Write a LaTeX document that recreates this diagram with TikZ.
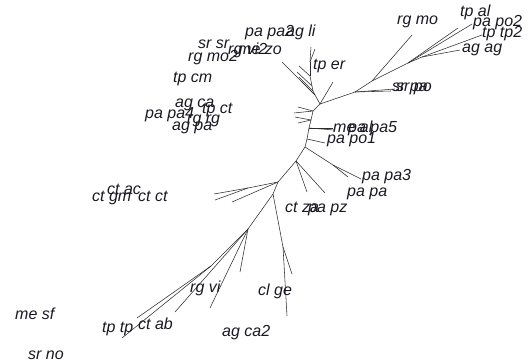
\documentclass[tikz,border=0pt]{standalone}
\usepackage{fontspec}
\setmainfont{Liberation Sans}
\usetikzlibrary{positioning}
\definecolor{branchc}{RGB}{45,45,45}
\definecolor{tipc}{RGB}{25,25,35}

\begin{document}
\begin{tikzpicture}[x=1pt, y=-1pt,
  edge/.style={draw=branchc, line width=0.55pt},
  lbl/.style={anchor=base west, inner sep=0pt, text=tipc, font=\fontsize{16}{16}\selectfont\itshape},
]
\useasboundingbox (0,0) rectangle (532,362);

% ---- backbone ----
\coordinate (b1) at (320,104);
\coordinate (c1) at (313,111);
\coordinate (b2) at (311,120);
\coordinate (b3) at (309,128);
\coordinate (b4) at (307,139);
\coordinate (b5) at (305,147);
\coordinate (b6) at (296,161);
\coordinate (b7) at (278,182);
\coordinate (b8) at (273,194);
\coordinate (b9) at (248,229);
\coordinate (b10) at (211,266);

% ---- right clade ----
\coordinate (r1) at (355,92);
\coordinate (r2) at (372,81);
\coordinate (r3) at (408,63);
\coordinate (r4) at (422,57);
\coordinate (tr1) at (395,89);
\coordinate (tr2) at (391,91);
\coordinate (tr3) at (412,35);
\coordinate (tr4) at (458,28);
\coordinate (tr5) at (472,24);
\coordinate (tr6) at (482,35);
\coordinate (tr7) at (460,50);
\coordinate (tup) at (333,82);

% ---- top clade ----
\coordinate (u1) at (315,95);
\coordinate (u0) at (313,91);
\coordinate (u2) at (312,86);
\coordinate (u3) at (310,76);
\coordinate (u4) at (310,62);
\coordinate (tu1) at (282,62);
\coordinate (tu2) at (297,72);
\coordinate (tu3) at (299,77);
\coordinate (tu4) at (301,81);
\coordinate (tu5) at (299,66);
\coordinate (tu6) at (311,47);
\coordinate (tu7) at (315,49);

% ---- middle tips ----
\coordinate (tm1) at (298,107);
\coordinate (tm2) at (294,113);
\coordinate (tm3) at (295,117);
\coordinate (tm4) at (298,123);
\coordinate (tm5) at (334,130);
\coordinate (tm6) at (333,128);
\coordinate (tm7) at (325,143);
\coordinate (p1) at (333,165);
\coordinate (tm8) at (361,179);
\coordinate (tm9) at (348,177);
\coordinate (tm10) at (307,192);
\coordinate (tm11) at (325,193);

% ---- lower clades ----
\coordinate (k1) at (248,188);
\coordinate (tk1) at (214,194);
\coordinate (tk2) at (215,200);
\coordinate (tk3) at (232,202);
\coordinate (g1) at (283,247);
\coordinate (tg1) at (292,274);
\coordinate (tg2) at (287,316);
\coordinate (tl1) at (240,272);
\coordinate (tl2) at (210,308);
\coordinate (tl3) at (175,312);
\coordinate (tl4) at (137,318);
\coordinate (tl5) at (122,338);

% ---- branches ----
\foreach \a/\b in {b1/c1, c1/b2, b2/b3, b3/b4, b4/b5, b5/b6, b6/b7, b7/b8, b8/b9, b9/b10,
  b1/r1, r1/tr1, r1/tr2, r1/r2, r2/tr3, r2/r3, r3/tr4, r3/tr5, r3/r4, r4/tr6, r4/tr7, b1/tup,
  b1/u1, u1/u0, u0/u2, u2/u3, u3/u4, u1/tu1, u2/tu2, u0/tu3, u1/tu4, u3/tu5, u4/tu6, u4/tu7,
  c1/tm1, c1/tm2, b2/tm3, b2/tm4, b3/tm5, b3/tm6, b4/tm7, b5/p1, p1/tm8, p1/tm9, b6/tm10, b6/tm11,
  b7/k1, k1/tk1, k1/tk2, b7/tk3, b8/g1, g1/tg1, g1/tg2,
  b9/tl1, b9/tl2, b9/tl3, b10/tl4, b10/tl5}
  \draw[edge] (\a) -- (\b);

% ---- tip labels ----
\node[lbl] (papa2) at (245,36) {pa pa2};
\node[lbl] (agli) at (286,36) {ag li};
\node[lbl] (srsr) at (198,48) {sr sr};
\node[lbl] (rgvi2) at (228,54) {rg vi2};
\node[lbl] (mezo) at (238,54) {me zo};
\node[lbl] (rgmo2) at (188,61) {rg mo2};
\node[lbl] (tper) at (313,69) {tp er};
\node[lbl] (tpcm) at (173,82) {tp cm};
\node[lbl] (agca) at (175,107) {ag ca};
\node[lbl] (tpct) at (202,113) {tp ct};
\node[lbl] (papa4) at (145,118) {pa pa4};
\node[lbl] (rgrg) at (187,123) {rg rg};
\node[lbl] (agpa) at (172,130) {ag pa};
\node[lbl] (ctgm) at (92,201) {ct gm};
\node[lbl] (ctac) at (107,194) {ct ac};
\node[lbl] (ctct) at (138,201) {ct ct};
\node[lbl] (ctza) at (285,212) {ct za};
\node[lbl] (papz) at (308,212) {pa pz};
\node[lbl] (meal) at (333,132) {me al};
\node[lbl] (papa5) at (348,132) {pa pa5};
\node[lbl] (papo1) at (327,143) {pa po1};
\node[lbl] (papa3) at (362,180) {pa pa3};
\node[lbl] (papa) at (347,196) {pa pa};
\node[lbl] (rgmo) at (397,24) {rg mo};
\node[lbl] (tpal) at (460,16) {tp al};
\node[lbl] (papo2) at (473,26) {pa po2};
\node[lbl] (tptp2) at (482,37) {tp tp2};
\node[lbl] (agag) at (462,52) {ag ag};
\node[lbl] (srpa) at (392,91) {sr pa};
\node[lbl] (srpo) at (396,91) {sr po};
\node[lbl] (mesf) at (15,319) {me sf};
\node[lbl] (srno) at (28,359) {sr no};
\node[lbl] (tptp) at (102,332) {tp tp};
\node[lbl] (ctab) at (138,329) {ct ab};
\node[lbl] (rgvi) at (190,292) {rg vi};
\node[lbl] (agca2) at (222,336) {ag ca2};
\node[lbl] (clge) at (258,295) {cl ge};

\end{tikzpicture}
\end{document}
